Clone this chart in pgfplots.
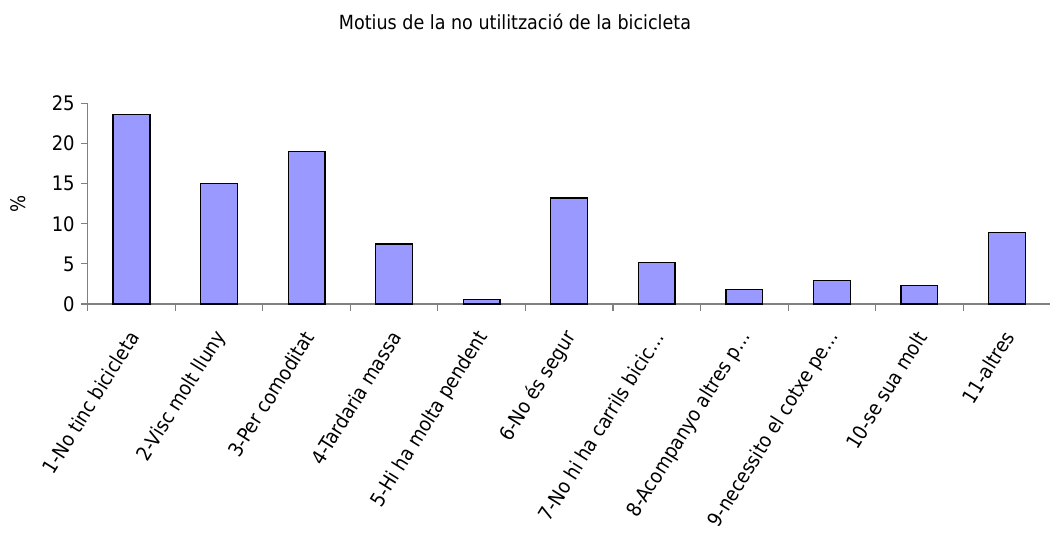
\documentclass[border=0pt]{standalone}
\usepackage{fontspec}
\setmainfont{DejaVu Sans Condensed}
\usepackage{pgfplots}
\pgfplotsset{compat=1.18}

\definecolor{barblue}{HTML}{9999FF}
\definecolor{axisgray}{HTML}{808080}

\begin{document}
\begin{tikzpicture}[x=1bp,y=1bp]
  % page frame
  \path[use as bounding box] (0,0) rectangle (1050,-540);
  % chart title
  \node[font=\fontsize{19.5bp}{23bp}\selectfont, anchor=center]
    at (515,-22) {Motius de la no utilització de la bicicleta};
  \begin{axis}[
    at={(87.7bp,-304bp)}, anchor=south west,
    scale only axis, width=963bp, height=200.5bp,
    xmin=0.5, xmax=11.5, ymin=0, ymax=25,
    axis x line=bottom, axis y line=left,
    axis line style={-, draw=axisgray, line width=1.3bp},
    every tick/.style={draw=axisgray, line width=1.1bp},
    major tick length=6.5bp,
    tick align=outside,
    /pgf/number format/assume math mode=true,
    ytick={0,5,...,25},
    yticklabel style={font=\fontsize{20bp}{24bp}\selectfont, xshift=-3bp},
    xtick={0.5,1.5,...,11.5},
    xticklabels={},
    extra x ticks={1,2,3,4,5,6,7,8,9,10,11},
    extra x tick labels={1-No tinc bicicleta, 2-Visc molt lluny, 3-Per comoditat,
      4-Tardaria massa, 5-Hi ha molta pendent, 6-No és segur,
      7-No hi ha carrils bicic\ldots, 8-Acompanyo altres p\ldots,
      9-necessito el cotxe pe\ldots, 10-se sua molt, 11-altres},
    extra x tick style={major tick length=0pt,
      tick label style={font=\fontsize{20bp}{24bp}\selectfont,
        xshift=4bp, yshift=-26.5bp, rotate=58, anchor=east}},
    ylabel={\%},
    every axis y label/.style={at={(axis description cs:-0.0724,0.5)},
      rotate=90, anchor=center, font=\fontsize{20bp}{24bp}\selectfont},
    ybar, bar width=0.42,
  ]
    \addplot[ybar, fill=barblue, draw=black, line width=1.3bp]
      coordinates {(1,23.6) (2,15.0) (3,19.0) (4,7.5) (5,0.6) (6,13.2)
                   (7,5.2) (8,1.85) (9,2.95) (10,2.3) (11,8.95)};
  \end{axis}
\end{tikzpicture}
\end{document}
